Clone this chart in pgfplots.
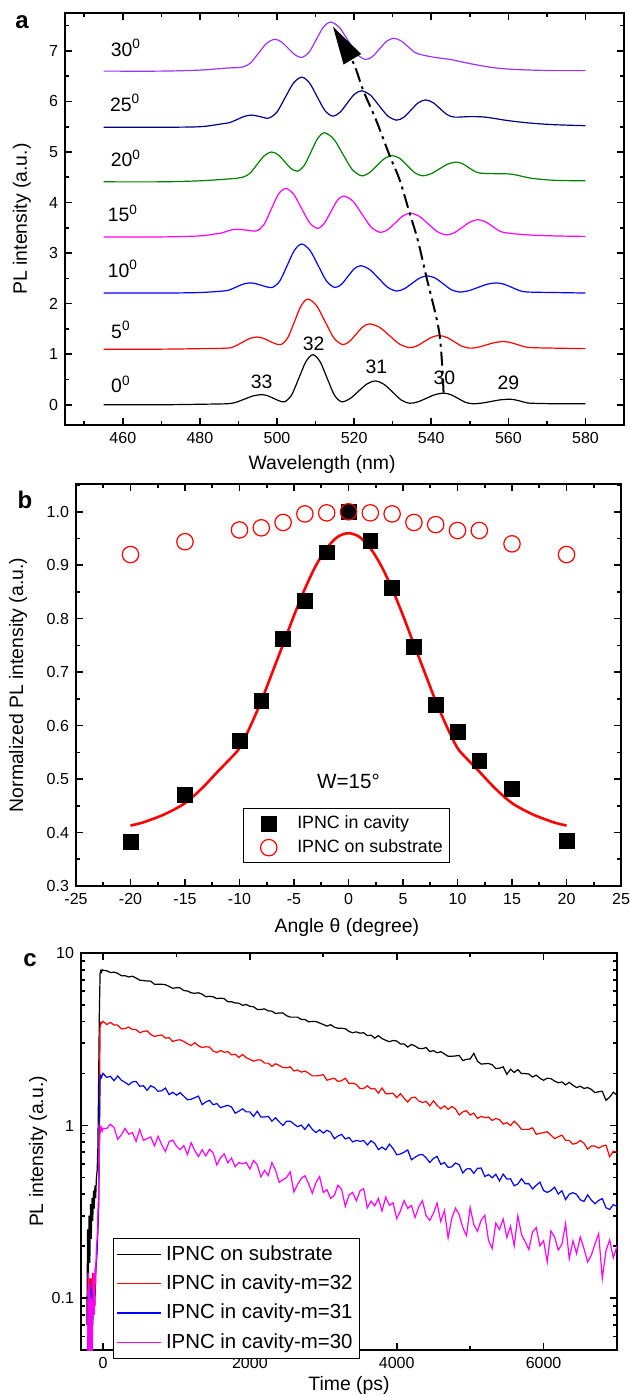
\documentclass[border=0pt]{standalone}
\usepackage{pgfplots}
\pgfplotsset{compat=1.18}
\usepackage{pgfplotstable}
\usepackage{fontspec}
\setmainfont{Liberation Sans}
\usetikzlibrary{arrows.meta}
\definecolor{violetc}{RGB}{153,51,255}
\definecolor{navyc}{RGB}{0,0,128}
\definecolor{greenc}{RGB}{0,128,0}
\definecolor{magc}{RGB}{255,0,255}
\newcommand\tickfont{\fontsize{8}{9.6}\selectfont}
\newcommand\labfont{\fontsize{9.7}{11.6}\selectfont}
\pgfplotsset{
  every axis/.append style={
    scale only axis, anchor=south west,
    /pgf/number format/assume math mode=true,
    tick label style={font=\tickfont},
    label style={font=\labfont},
    axis line style={line width=0.8pt},
    every tick/.style={line width=0.8pt, black},
    major tick length=3.5pt, minor tick length=2pt,
    xtick pos=both, ytick pos=both,
    tick align=inside,
  }
}
\pgfplotstableread{
t k r b m
-220 0.07 0.03 0.03 0.03
-210 0.25 0.04 0.03 0.03
-200 0.12 0.14 0.04 0.14
-190 0.30 0.06 0.10 0.04
-180 0.16 0.13 0.05 0.12
-170 0.35 0.07 0.12 0.04
-160 0.22 0.13 0.06 0.10
-150 0.38 0.08 0.11 0.04
-140 0.28 0.14 0.07 0.09
-130 0.42 0.10 0.10 0.14
-120 0.33 0.12 0.08 0.08
-110 0.45 0.09 0.13 0.15
-100 0.38 0.15 0.14 0.12
-90 0.50 0.17 0.16 0.20
-80 0.55 0.20 0.19 0.22
-70 0.75 0.25 0.26 0.30
-60 1.80 0.32 0.36 0.40
-50 4.50 1.10 0.80 0.70
-40 7.60 3.70 1.85 0.98
-30 7.90 3.95 1.95 0.94
-20 7.75 3.90 1.90 0.97
-10 8.00 3.96 1.96 0.93
0 7.94 4.02 2.01 0.96
50 7.89 3.85 1.90 0.96
100 7.70 3.96 1.93 1.017
150 7.75 3.83 1.82 0.973
200 7.62 3.82 1.94 0.832
250 7.39 3.63 1.83 0.883
300 7.39 3.65 1.78 0.963
350 7.26 3.72 1.72 0.89
400 7.34 3.60 1.79 0.911
450 7.16 3.60 1.80 0.809
500 6.96 3.45 1.69 0.950
550 6.92 3.51 1.70 0.820
600 6.88 3.54 1.60 0.84
650 6.87 3.37 1.70 0.859
700 6.59 3.29 1.66 0.763
750 6.59 3.32 1.58 0.867
800 6.59 3.35 1.59 0.772
850 6.55 3.21 1.65 0.707
900 6.40 3.23 1.51 0.807
950 6.24 3.07 1.56 0.824
1000 6.29 3.12 1.50 0.76
1050 6.28 3.14 1.55 0.724
1100 6.06 3.07 1.48 0.766
1150 6.02 2.98 1.41 0.679
1200 5.88 2.91 1.42 0.796
1250 5.84 3.02 1.45 0.715
1300 5.88 2.90 1.48 0.660
1350 5.77 2.83 1.32 0.725
1400 5.58 2.86 1.37 0.666
1450 5.61 2.85 1.40 0.728
1500 5.57 2.70 1.32 0.693
1550 5.44 2.65 1.34 0.591
1600 5.47 2.72 1.27 0.65
1650 5.44 2.66 1.29 0.685
1700 5.22 2.68 1.31 0.608
1750 5.22 2.57 1.28 0.647
1800 5.13 2.59 1.18 0.577
1850 5.12 2.48 1.21 0.61
1900 4.97 2.58 1.25 0.60
1950 5.03 2.47 1.20 0.611
2000 4.91 2.42 1.20 0.560
2050 4.88 2.36 1.13 0.627
2100 4.71 2.40 1.21 0.593
2150 4.71 2.40 1.12 0.504
2200 4.74 2.30 1.12 0.55
2250 4.62 2.30 1.13 0.513
2300 4.60 2.20 1.06 0.610
2350 4.46 2.28 1.11 0.551
2400 4.49 2.23 1.05 0.468
2450 4.49 2.17 1.00 0.485
2500 4.33 2.16 1.06 0.50
2550 4.25 2.19 1.06 0.539
2600 4.25 2.07 1.02 0.412
2650 4.25 2.10 0.984 0.456
2700 4.12 2.04 1.006 0.494
2750 4.12 2.07 0.949 0.512
2800 3.99 2.01 1.017 0.46
2850 4.01 1.94 0.95 0.405
2900 4.01 1.94 0.910 0.467
2950 3.93 1.95 0.945 0.506
3000 3.85 1.97 0.905 0.409
3050 3.77 1.83 0.939 0.425
3100 3.84 1.86 0.914 0.378
3150 3.72 1.88 0.838 0.394
3200 3.66 1.80 0.87 0.451
3250 3.66 1.82 0.888 0.425
3300 3.64 1.88 0.836 0.340
3350 3.51 1.75 0.853 0.395
3400 3.45 1.76 0.803 0.410
3450 3.49 1.73 0.82 0.366
3500 3.43 1.64 0.81 0.418
3550 3.45 1.64 0.818 0.431
3600 3.32 1.70 0.772 0.333
3650 3.34 1.63 0.816 0.365
3700 3.21 1.64 0.788 0.342
3750 3.32 1.54 0.725 0.378
3800 3.19 1.65 0.75 0.320
3850 3.12 1.53 0.723 0.385
3900 3.06 1.53 0.780 0.345
3950 3.11 1.54 0.737 0.357
4000 3.09 1.45 0.677 0.289
4050 2.97 1.53 0.684 0.320
4100 2.97 1.44 0.70 0.367
4150 2.85 1.37 0.722 0.331
4200 2.95 1.45 0.633 0.344
4250 2.89 1.46 0.655 0.293
4300 2.80 1.39 0.675 0.338
4350 2.79 1.36 0.680 0.367
4400 2.83 1.38 0.65 0.300
4450 2.68 1.30 0.611 0.282
4500 2.72 1.39 0.644 0.31
4550 2.64 1.31 0.663 0.355
4600 2.68 1.25 0.596 0.278
4650 2.60 1.30 0.61 0.322
4700 2.52 1.24 0.572 0.223
4750 2.52 1.29 0.576 0.29
4800 2.53 1.25 0.607 0.332
4850 2.55 1.15 0.593 0.305
4900 2.38 1.20 0.531 0.256
4950 2.42 1.22 0.56 0.230
5000 2.43 1.15 0.563 0.335
5050 2.62 1.18 0.528 0.267
5100 2.36 1.10 0.565 0.244
5150 2.27 1.13 0.567 0.283
5200 2.28 1.11 0.506 0.302
5250 2.29 1.12 0.52 0.216
5300 2.25 1.07 0.498 0.194
5350 2.14 1.10 0.522 0.272
5400 2.15 1.08 0.477 0.25
5450 2.19 1.02 0.523 0.287
5500 1.98 1.04 0.49 0.225
5550 2.12 1.00 0.491 0.261
5600 2.03 1.06 0.447 0.201
5650 2.11 1.01 0.459 0.300
5700 2.00 0.95 0.492 0.233
5750 2.00 0.95 0.46 0.212
5800 1.99 0.95 0.460 0.191
5850 1.91 0.97 0.429 0.242
5900 1.96 0.89 0.450 0.256
5950 1.88 0.90 0.470 0.201
6000 1.83 0.91 0.420 0.215
6050 1.88 0.92 0.410 0.162
6100 1.87 0.88 0.42 0.245
6150 1.81 0.84 0.439 0.226
6200 1.77 0.86 0.401 0.190
6250 1.79 0.88 0.419 0.205
6300 1.72 0.82 0.372 0.270
6350 1.78 0.82 0.40 0.169
6400 1.71 0.78 0.408 0.215
6450 1.66 0.79 0.399 0.181
6500 1.69 0.82 0.371 0.226
6550 1.64 0.79 0.363 0.194
6600 1.66 0.73 0.396 0.162
6650 1.62 0.76 0.37 0.177
6700 1.55 0.76 0.352 0.206
6750 1.57 0.74 0.368 0.236
6800 1.58 0.76 0.377 0.130
6850 1.40 0.77 0.334 0.188
6900 1.46 0.66 0.326 0.217
6950 1.56 0.71 0.348 0.171
7000 1.50 0.70 0.34 0.200
}\decaytable
\begin{document}
\begin{tikzpicture}
\path[use as bounding box] (0,0) rectangle (314.5pt,697.5pt);
% ---------------- panel a
\begin{axis}[
  at={(32.5pt,485pt)}, width=279.5pt, height=206pt,
  xmin=445, xmax=590, ymin=-0.4, ymax=7.75,
  xtick={460,480,...,580}, minor xtick={450,470,...,590},
  ytick={0,1,...,7}, minor ytick={-0.5,0.5,1.5,...,7.5},
  xlabel={Wavelength (nm)}, ylabel={PL intensity (a.u.)},
  xlabel style={at={(axis description cs:0.46,-0.097)}, anchor=center},
  ylabel style={at={(axis description cs:-0.077,0.5)}, anchor=center},
  every axis plot/.append style={line width=0.6pt, smooth, tension=0.5},
]
\addplot[black] coordinates {(455,0.00) (470,0.00) (480,0.01) (487,0.02) (489.25,0.046) (491.5,0.11) (493.75,0.174) (496,0.20) (497.5,0.18) (499,0.13) (500.5,0.08) (502,0.06) (503.8,0.196) (505.65,0.525) (507.5,0.854) (509.3,0.99) (511.15,0.854) (513,0.525) (514.85,0.196) (516.7,0.06) (518.9,0.12) (521.1,0.265) (523.3,0.41) (525.5,0.47) (527.7,0.406) (530,0.25) (532.2,0.094) (534.4,0.03) (536.6,0.059) (538.8,0.13) (541,0.201) (543.2,0.23) (545.1,0.199) (547,0.125) (548.8,0.051) (550.7,0.02) (553.1,0.033) (555.5,0.065) (557.9,0.097) (560.3,0.11) (561.7,0.098) (563.2,0.07) (564.6,0.042) (566,0.03) (572,0.02) (580,0.02)};
\addplot[red] coordinates {(455,1.10) (470,1.10) (480,1.11) (487,1.12) (488.9,1.152) (490.9,1.23) (492.8,1.308) (494.7,1.34) (496.3,1.318) (497.9,1.265) (499.4,1.212) (501,1.19) (502.75,1.321) (504.5,1.64) (506.25,1.959) (508,2.09) (510.25,1.959) (512.5,1.64) (514.75,1.321) (517,1.19) (518.75,1.25) (520.5,1.395) (522.25,1.54) (524,1.60) (526.6,1.531) (529.2,1.365) (531.8,1.199) (534.4,1.13) (536.3,1.165) (538.2,1.25) (540.1,1.335) (542,1.37) (544,1.333) (546,1.245) (548,1.157) (550,1.12) (552.2,1.139) (554.35,1.185) (556.5,1.231) (558.7,1.25) (560.5,1.232) (562.35,1.19) (564.2,1.148) (566,1.13) (572,1.12) (580,1.11)};
\addplot[blue] coordinates {(455,2.21) (470,2.21) (480,2.22) (486,2.25) (487.7,2.273) (489.45,2.33) (491.2,2.387) (492.9,2.41) (494.4,2.397) (495.85,2.365) (497.3,2.333) (498.8,2.32) (500.7,2.446) (502.6,2.75) (504.5,3.054) (506.4,3.18) (508.55,3.054) (510.7,2.75) (512.85,2.446) (515,2.32) (516.7,2.383) (518.35,2.535) (520,2.687) (521.7,2.75) (524,2.677) (526.35,2.5) (528.7,2.323) (531,2.25) (533,2.294) (535,2.4) (537,2.506) (539,2.55) (541.1,2.503) (543.15,2.39) (545.2,2.277) (547.3,2.23) (549.7,2.256) (552.1,2.32) (554.5,2.384) (556.9,2.41) (558.9,2.384) (560.95,2.32) (563,2.256) (565,2.23) (572,2.22) (580,2.21)};
\addplot[magc] coordinates {(455,3.32) (470,3.32) (480,3.34) (484,3.38) (485.4,3.393) (486.75,3.425) (488.1,3.457) (489.5,3.47) (492.1,3.455) (494.7,3.44) (496.6,3.563) (498.45,3.86) (500.3,4.157) (502.2,4.28) (504.3,4.165) (506.35,3.885) (508.4,3.605) (510.5,3.49) (512.2,3.583) (513.9,3.81) (515.6,4.037) (517.3,4.13) (519.7,4.025) (522.05,3.77) (524.4,3.515) (526.8,3.41) (528.75,3.465) (530.7,3.6) (532.65,3.735) (534.6,3.79) (536.9,3.727) (539.25,3.575) (541.6,3.423) (543.9,3.36) (546,3.404) (548.05,3.51) (550.1,3.616) (552.2,3.66) (554,3.622) (555.85,3.53) (557.7,3.438) (559.5,3.40) (565,3.36) (572,3.34) (580,3.33)};
\addplot[greenc] coordinates {(455,4.41) (470,4.41) (480,4.43) (488,4.47) (491,4.50) (492.9,4.573) (494.8,4.75) (496.7,4.927) (498.6,5.00) (500.3,4.945) (501.95,4.81) (503.6,4.675) (505.3,4.62) (507.05,4.731) (508.8,5.0) (510.55,5.269) (512.3,5.38) (514.7,5.256) (517.1,4.955) (519.5,4.654) (521.9,4.53) (523.9,4.588) (525.9,4.73) (527.9,4.872) (529.9,4.93) (531.85,4.872) (533.8,4.73) (535.75,4.588) (537.7,4.53) (539.9,4.569) (542.1,4.665) (544.3,4.761) (546.5,4.80) (548.1,4.768) (549.75,4.69) (551.4,4.612) (553,4.58) (557,4.57) (561,4.56) (566,4.48) (572,4.44) (580,4.43)};
\addplot[navyc] coordinates {(455,5.49) (470,5.49) (480,5.50) (486,5.56) (487.85,5.585) (489.7,5.645) (491.55,5.705) (493.4,5.73) (495.6,5.70) (497.8,5.67) (499.95,5.788) (502.1,6.075) (504.25,6.362) (506.4,6.48) (508.4,6.368) (510.4,6.095) (512.4,5.822) (514.4,5.71) (516.3,5.783) (518.15,5.96) (520,6.137) (521.9,6.21) (524.2,6.125) (526.45,5.92) (528.7,5.715) (531,5.63) (532.9,5.688) (534.75,5.83) (536.6,5.972) (538.5,6.03) (540.4,5.98) (542.25,5.86) (544.1,5.74) (546,5.69) (550,5.70) (554,5.69) (560,5.62) (566,5.57) (572,5.54) (580,5.52)};
\addplot[violetc] coordinates {(455,6.60) (470,6.60) (480,6.62) (487,6.66) (491,6.68) (493.1,6.76) (495.2,6.955) (497.3,7.15) (499.4,7.23) (501.15,7.177) (502.9,7.05) (504.65,6.923) (506.4,6.87) (508.3,6.972) (510.15,7.22) (512,7.468) (513.9,7.57) (516.2,7.462) (518.45,7.2) (520.7,6.938) (523,6.83) (524.8,6.891) (526.6,7.04) (528.4,7.189) (530.2,7.25) (532.1,7.202) (533.95,7.085) (535.8,6.968) (537.7,6.92) (541,6.87) (545,6.83) (548,6.78) (552,6.72) (556,6.67) (560,6.64) (566,6.62) (572,6.61) (580,6.61)};
\addplot[black, line width=1pt, dash pattern=on 7pt off 2.5pt on 1.5pt off 2.5pt, smooth, -{Triangle[length=19pt,width=10pt]}] coordinates {(543.2,0.24) (542.1,1.42) (538.7,2.54) (536.5,3.26) (534.4,3.79) (531.8,4.45) (529.2,4.93) (525.7,5.63) (522.3,6.23) (519.7,6.78) (514.5,7.48)};
\begin{scope}[every node/.style={font=\labfont}]
\node at (axis cs:460.8,7.06) {30\textsuperscript{0}};
\node at (axis cs:460.6,5.97) {25\textsuperscript{0}};
\node at (axis cs:460.8,4.88) {20\textsuperscript{0}};
\node at (axis cs:460.0,3.79) {15\textsuperscript{0}};
\node at (axis cs:460.0,2.69) {10\textsuperscript{0}};
\node at (axis cs:459.5,1.48) {5\textsuperscript{0}};
\node at (axis cs:459.5,0.40) {0\textsuperscript{0}};
\node at (axis cs:496,0.45) {33};
\node at (axis cs:509.5,1.20) {32};
\node at (axis cs:525.8,0.75) {31};
\node at (axis cs:543.4,0.53) {30};
\node at (axis cs:560,0.43) {29};
\end{scope}
\end{axis}
% ---------------- panel b
\begin{axis}[
  at={(38pt,254.5pt)}, width=272.5pt, height=201pt,
  xmin=-25, xmax=25, ymin=0.3, ymax=1.052,
  xtick={-25,-20,...,25}, minor xtick={-22.5,-17.5,...,22.5},
  ytick={0.3,0.4,...,1.0}, minor ytick={0.35,0.45,...,1.05},
  yticklabel style={/pgf/number format/.cd, fixed, precision=1, fixed zerofill},
  xlabel={Angle θ (degree)}, ylabel={Normalized PL intensity (a.u.)},
  xlabel style={at={(axis description cs:0.497,-0.102)}, anchor=center},
  ylabel style={at={(axis description cs:-0.106,0.5)}, anchor=center},
  legend style={at={(0.306,0.057)}, anchor=south west, font=\fontsize{8.9}{10.5}\selectfont, draw=black, line width=0.5pt, inner sep=1.5pt, row sep=0pt},
  legend cell align=left,
  legend image code/.code={\path (-11pt,0pt) (12pt,0pt); \draw[#1] plot coordinates {(0pt,0pt)};},
]
\addplot[only marks, mark=square*, mark size=3.7pt, black] coordinates {(-20,0.382) (-15,0.471) (-10,0.572) (-8,0.646) (-6,0.762) (-4,0.833) (-2,0.924) (0,1.0) (2,0.946) (4,0.858) (6,0.747) (8,0.639) (10,0.588) (12,0.534) (15,0.482) (20,0.384)};
\addlegendentry{IPNC in cavity}
\addplot[only marks, mark=o, mark size=4.1pt, red, mark options={line width=0.6pt}] coordinates {(-20,0.92) (-15,0.944) (-10,0.966) (-8,0.97) (-6,0.98) (-4,0.996) (-2,0.998) (0,1.0) (2,0.998) (4,0.996) (6,0.98) (8,0.976) (10,0.965) (12,0.965) (15,0.94) (20,0.92)};
\addlegendentry{IPNC on substrate}
\addplot[red, line width=1.3pt, smooth, forget plot] coordinates {(-20,0.413) (-19,0.418) (-18,0.425) (-17,0.433) (-16,0.443) (-15,0.455) (-14,0.472) (-13,0.492) (-12,0.514) (-11,0.535) (-10,0.558) (-9,0.599) (-8,0.646) (-7,0.699) (-6,0.752) (-5,0.806) (-4,0.856) (-3,0.899) (-2,0.932) (-1,0.953) (0,0.960) (1,0.953) (2,0.932) (3,0.899) (4,0.856) (5,0.806) (6,0.752) (7,0.699) (8,0.646) (9,0.599) (10,0.558) (11,0.535) (12,0.514) (13,0.492) (14,0.472) (15,0.455) (16,0.443) (17,0.433) (18,0.425) (19,0.418) (20,0.413)};
\node[font=\fontsize{10.3}{12}\selectfont] at (axis cs:0,0.495) {W=15°};
\end{axis}
% ---------------- panel c
\begin{axis}[
  ymode=log,
  at={(40.5pt,22.5pt)}, width=268pt, height=198.5pt,
  xmin=-300, xmax=7000, ymin=0.05, ymax=10,
  xtick={0,2000,4000,6000}, minor xtick={1000,3000,5000},
  xticklabel style={/pgf/number format/1000 sep={}},
  ytick={0.1,1,10}, yticklabels={0.1,1,10},
  minor ytick={0.06,0.07,0.08,0.09,0.2,0.3,0.4,0.5,0.6,0.7,0.8,0.9,2,3,4,5,6,7,8,9},
  xlabel={Time (ps)}, ylabel={PL intensity (a.u.)},
  xlabel style={at={(axis description cs:0.5,-0.089)}, anchor=center},
  ylabel style={at={(axis description cs:-0.080,0.5)}, anchor=center},
  legend style={at={(0.06,-0.022)}, anchor=south west, font=\fontsize{10.2}{12}\selectfont, draw=black, line width=0.5pt, inner sep=1.5pt, row sep=1.8pt},
  legend cell align=left,
  legend image code/.code={\draw[#1, line width=0.7pt] (0pt,0pt) -- (22pt,0pt);},
  every axis plot/.append style={line width=0.6pt},
]
\addplot[black] table[x=t, y=k] {\decaytable};
\addlegendentry{IPNC on substrate}
\addplot[red] table[x=t, y=r] {\decaytable};
\addlegendentry{IPNC in cavity-m=32}
\addplot[blue] table[x=t, y=b] {\decaytable};
\addlegendentry{IPNC in cavity-m=31}
\addplot[magc] table[x=t, y=m] {\decaytable};
\addlegendentry{IPNC in cavity-m=30}
\end{axis}
\node[font=\fontsize{12}{14}\selectfont\bfseries] at (11pt,686.5pt) {a};
\node[font=\fontsize{12}{14}\selectfont\bfseries] at (12.5pt,447.5pt) {b};
\node[font=\fontsize{12}{14}\selectfont\bfseries] at (15pt,217.5pt) {c};
\end{tikzpicture}
\end{document}
